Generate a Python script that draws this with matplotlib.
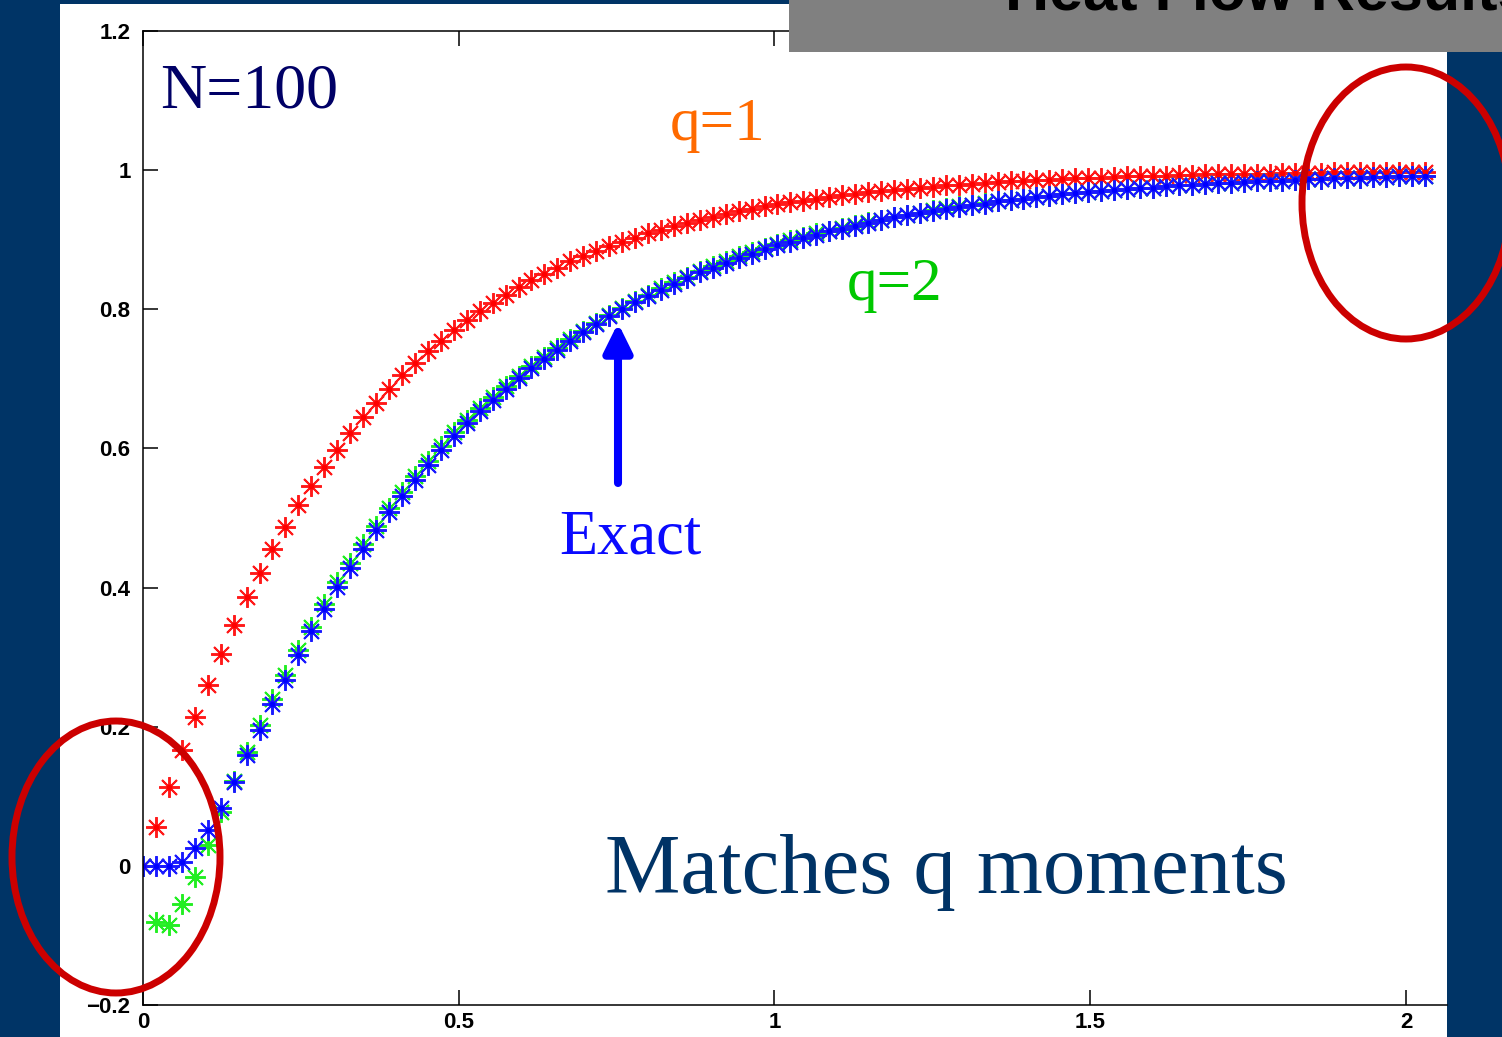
import numpy as np
import matplotlib
matplotlib.use('Agg')
import matplotlib.pyplot as plt
from matplotlib.patches import Rectangle, Ellipse

# malla de 100 puntos en x
x = np.linspace(0, 2.03, 100)

# solucion exacta (azul)
exacta = [0.000, 0.000, 0.000, 0.005, 0.026, 0.052, 0.083, 0.120, 0.160, 0.195,
          0.233, 0.267, 0.303, 0.337, 0.369, 0.401, 0.428, 0.456, 0.483, 0.508,
          0.532, 0.555, 0.576, 0.598, 0.618, 0.637, 0.654, 0.670, 0.686, 0.701,
          0.715, 0.729, 0.742, 0.755, 0.767, 0.779, 0.790, 0.800, 0.810, 0.819,
          0.828, 0.837, 0.845, 0.853, 0.860, 0.867, 0.874, 0.880, 0.886, 0.892,
          0.897, 0.902, 0.907, 0.912, 0.916, 0.920, 0.924, 0.928, 0.932, 0.935,
          0.938, 0.941, 0.944, 0.947, 0.950, 0.952, 0.955, 0.957, 0.959, 0.961,
          0.963, 0.965, 0.967, 0.968, 0.970, 0.971, 0.973, 0.974, 0.975, 0.977,
          0.978, 0.979, 0.980, 0.981, 0.982, 0.983, 0.984, 0.985, 0.985, 0.986,
          0.987, 0.987, 0.988, 0.989, 0.989, 0.990, 0.990, 0.991, 0.991, 0.992]

# q=1 (rojo)
q1 = [0.000, 0.056, 0.113, 0.166, 0.214, 0.260, 0.305, 0.346, 0.386, 0.421,
      0.455, 0.487, 0.518, 0.546, 0.573, 0.598, 0.622, 0.645, 0.666, 0.686,
      0.705, 0.723, 0.740, 0.755, 0.770, 0.784, 0.797, 0.809, 0.821, 0.832,
      0.842, 0.851, 0.860, 0.869, 0.876, 0.884, 0.891, 0.897, 0.903, 0.909,
      0.914, 0.920, 0.924, 0.929, 0.933, 0.937, 0.941, 0.944, 0.948, 0.951,
      0.954, 0.956, 0.959, 0.962, 0.964, 0.966, 0.968, 0.970, 0.972, 0.973,
      0.975, 0.976, 0.978, 0.979, 0.980, 0.982, 0.983, 0.984, 0.985, 0.986,
      0.986, 0.987, 0.988, 0.989, 0.989, 0.990, 0.991, 0.991, 0.992, 0.992,
      0.993, 0.993, 0.994, 0.994, 0.994, 0.995, 0.995, 0.995, 0.996, 0.996,
      0.996, 0.996, 0.997, 0.997, 0.997, 0.997, 0.997, 0.997, 0.998, 0.998]

# q=2 (verde)
q2 = [0.000, -0.080, -0.085, -0.055, -0.016, 0.030, 0.077, 0.122, 0.163, 0.202,
      0.240, 0.274, 0.310, 0.344, 0.376, 0.408, 0.435, 0.463, 0.489, 0.514,
      0.538, 0.561, 0.582, 0.603, 0.623, 0.641, 0.658, 0.674, 0.690, 0.704,
      0.718, 0.732, 0.745, 0.757, 0.769, 0.781, 0.792, 0.802, 0.812, 0.821,
      0.830, 0.839, 0.847, 0.855, 0.862, 0.869, 0.876, 0.882, 0.888, 0.894,
      0.899, 0.904, 0.909, 0.913, 0.917, 0.921, 0.925, 0.929, 0.933, 0.936,
      0.939, 0.942, 0.945, 0.948, 0.950, 0.953, 0.955, 0.957, 0.959, 0.961,
      0.963, 0.965, 0.967, 0.968, 0.970, 0.971, 0.973, 0.974, 0.975, 0.977,
      0.978, 0.979, 0.980, 0.981, 0.982, 0.983, 0.984, 0.985, 0.985, 0.986,
      0.987, 0.987, 0.988, 0.989, 0.989, 0.990, 0.990, 0.991, 0.991, 0.992]

xticks = [0, 0.5, 1, 1.5, 2]
yticks = [-0.2, 0, 0.2, 0.4, 0.6, 0.8, 1, 1.2]

W, H = 1502, 1037
fondo = '#003466'


def fx(px):
    return px / W


def fy(py):
    return 1 - py / H


fig = plt.figure(figsize=(W / 100, H / 100), dpi=100, facecolor=fondo)

# panel blanco de la diapositiva
fig.add_artist(Rectangle((fx(60), fy(1037)), fx(1447) - fx(60), fy(4) - fy(1037),
                         transform=fig.transFigure, facecolor='white', edgecolor='none', zorder=-5))

ax = fig.add_axes([fx(143), fy(1005), fx(1447) - fx(143), fy(31) - fy(1005)])
ax.set_xlim(0, 2.065)
ax.set_ylim(-0.2, 1.2)
ax.spines['right'].set_visible(False)
for s in ['left', 'bottom', 'top']:
    ax.spines[s].set_linewidth(1.1)
ax.set_xticks(xticks)
ax.set_xticklabels(['0', '0.5', '1', '1.5', '2'])
ax.set_yticks(yticks)
ax.set_yticklabels(['\u22120.2', '0', '0.2', '0.4', '0.6', '0.8', '1', '1.2'])
ax.tick_params(direction='in', length=11, width=1.1, top=True, right=False,
               labelsize=16, pad=9)
ax.tick_params(axis='x', pad=5)
for lab in ax.get_xticklabels() + ax.get_yticklabels():
    lab.set_family('Liberation Sans')
    lab.set_weight('bold')

# series con asteriscos
estilo = dict(linestyle='none', marker=(8, 2, 0), markersize=15, markeredgewidth=1.4)
ax.plot(x, q1, color='#ff1a1a', **estilo)
ax.plot(x, q2, color='#22ee22', **estilo)
ax.plot(x, exacta, color='#1a1aff', **estilo)
ax.plot(x, q1, linestyle='none', marker='o', markersize=3, color='#ff0000')
ax.plot(x, exacta, linestyle='none', marker='o', markersize=3, color='#0000ff')

# textos
serif = 'Liberation Serif'
fig.text(fx(160), fy(108), 'N=100', family=serif, size=46, color='#000066')
fig.text(fx(670), fy(140), 'q=1', family=serif, size=44, color='#ff6a00')
fig.text(fx(847), fy(300), 'q=2', family=serif, size=44, color='#00c800')
fig.text(fx(559), fy(553), 'Exact', family=serif, size=45, color='#0a0aff')
fig.text(fx(605), fy(893), 'Matches q moments', family=serif, size=61, color='#003366')

# flecha
ax.annotate('', xy=(618, H - 323), xytext=(618, H - 483),
            xycoords='figure pixels', textcoords='figure pixels',
            arrowprops=dict(arrowstyle='-|>,head_length=0.85,head_width=0.42',
                            mutation_scale=20, lw=5.8, color='#0000ff',
                            shrinkA=0, shrinkB=0))

# recuadro gris del titulo (el titulo queda cortado arriba, como en la diapositiva)
fig.add_artist(Rectangle((fx(789), fy(52)), 1 - fx(789), fy(0) - fy(52),
                         transform=fig.transFigure, facecolor='#808080', edgecolor='none', zorder=10))
fig.text(fx(1005), fy(10), 'Heat Flow Results', family='Liberation Sans', weight='bold',
         size=44, color='black', zorder=11)

# elipses rojas
for cx, cy in [(116, 857), (1406, 203)]:
    fig.add_artist(Ellipse((fx(cx), fy(cy)), 208 / W, 272 / H, transform=fig.transFigure,
                           fill=False, edgecolor='#cc0000', linewidth=5, zorder=12))

plt.savefig('out.png', dpi=100, facecolor=fondo)
